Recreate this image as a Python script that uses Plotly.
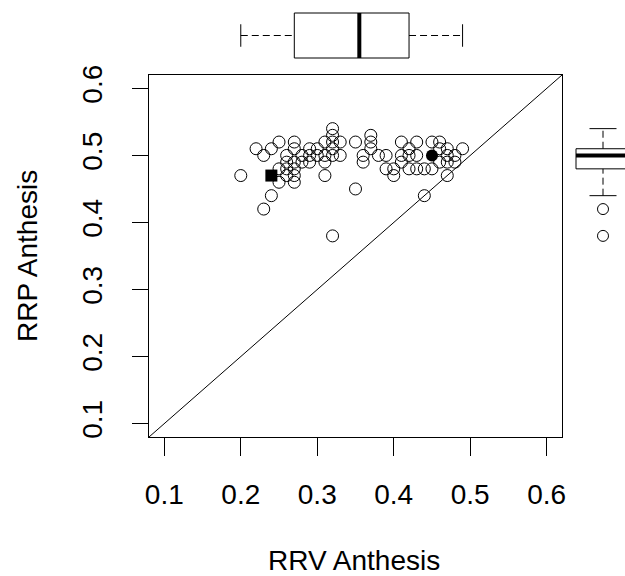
import plotly.graph_objects as go

# ---- data ----
rrv = [0.20, 0.22, 0.23, 0.24, 0.25, 0.27, 0.23, 0.24, 0.25, 0.26, 0.26, 0.26, 0.27, 0.27,
       0.27, 0.27, 0.27, 0.28, 0.28, 0.29, 0.29, 0.29, 0.30, 0.30, 0.26, 0.25,
       0.31, 0.31, 0.31, 0.31, 0.32, 0.32, 0.32, 0.32, 0.32, 0.33, 0.33, 0.32, 0.35, 0.35,
       0.36, 0.36, 0.37, 0.37, 0.37, 0.38, 0.39, 0.39, 0.40, 0.40,
       0.41, 0.41, 0.42, 0.42, 0.43, 0.43, 0.43, 0.44, 0.44, 0.45, 0.45, 0.46, 0.46, 0.46,
       0.47, 0.47, 0.47, 0.47, 0.48, 0.48, 0.49, 0.42, 0.41]
rrp = [0.47, 0.51, 0.50, 0.51, 0.52, 0.52, 0.42, 0.44, 0.46, 0.47, 0.48, 0.49, 0.46, 0.47,
       0.48, 0.49, 0.51, 0.50, 0.49, 0.51, 0.50, 0.49, 0.51, 0.50, 0.50, 0.48,
       0.52, 0.50, 0.49, 0.47, 0.54, 0.53, 0.52, 0.50, 0.51, 0.52, 0.50, 0.38, 0.52, 0.45,
       0.50, 0.49, 0.53, 0.52, 0.51, 0.50, 0.50, 0.48, 0.48, 0.47,
       0.52, 0.49, 0.51, 0.50, 0.52, 0.50, 0.48, 0.48, 0.44, 0.52, 0.48, 0.52, 0.51, 0.49,
       0.51, 0.50, 0.49, 0.47, 0.49, 0.50, 0.51, 0.48, 0.50]

# highlighted points
circle_pt_x = [0.45]
circle_pt_y = [0.50]
square_pt_x = [0.24]
square_pt_y = [0.47]

# boxplot statistics: [lower whisker, Q1, median, Q3, upper whisker]
rrv_box = [0.20, 0.27, 0.355, 0.42, 0.49]
rrp_box = [0.44, 0.48, 0.50, 0.51, 0.54]
rrp_outliers = [0.42, 0.38]

ticks = [0.1, 0.2, 0.3, 0.4, 0.5, 0.6]
tick_text = ["0.1", "0.2", "0.3", "0.4", "0.5", "0.6"]
axis_range = [0.08, 0.62]

W, H = 625, 576
FONT = "Liberation Sans, Arial, sans-serif"
FS = 28
DASH = "7px,4px"

fig = go.Figure()

# diagonal y = x
fig.add_trace(go.Scatter(x=axis_range, y=axis_range, mode="lines",
                         line=dict(color="black", width=1), hoverinfo="skip"))
# main scatter
fig.add_trace(go.Scatter(x=rrv, y=rrp, mode="markers",
                         marker=dict(symbol="circle-open", size=12, color="black",
                                     line=dict(width=1, color="black"))))
fig.add_trace(go.Scatter(x=circle_pt_x, y=circle_pt_y, mode="markers",
                         marker=dict(symbol="circle", size=12, color="black")))
fig.add_trace(go.Scatter(x=square_pt_x, y=square_pt_y, mode="markers",
                         marker=dict(symbol="square", size=12, color="black")))

# ---- top boxplot (horizontal) ----
lw, q1, med, q3, uw = rrv_box
fig.add_trace(go.Box(y=[0], q1=[q1], median=[med], q3=[q3], lowerfence=[q1], upperfence=[q3],
                     orientation="h", width=1, whiskerwidth=0,
                     line=dict(color="black", width=1), fillcolor="rgba(0,0,0,0)",
                     xaxis="x2", yaxis="y2", boxpoints=False))
fig.add_trace(go.Scatter(x=[med, med], y=[-0.5, 0.5], mode="lines",
                         line=dict(color="black", width=4), xaxis="x2", yaxis="y2"))
for a, b in [(lw, q1), (q3, uw)]:
    fig.add_trace(go.Scatter(x=[a, b], y=[0, 0], mode="lines",
                             line=dict(color="black", width=1, dash=DASH),
                             xaxis="x2", yaxis="y2"))
for v in [lw, uw]:
    fig.add_trace(go.Scatter(x=[v, v], y=[-0.25, 0.25], mode="lines",
                             line=dict(color="black", width=1), xaxis="x2", yaxis="y2"))

# ---- right boxplot (vertical) ----
lw, q1, med, q3, uw = rrp_box
fig.add_trace(go.Box(x=[0], q1=[q1], median=[med], q3=[q3], lowerfence=[q1], upperfence=[q3],
                     width=1, whiskerwidth=0,
                     line=dict(color="black", width=1), fillcolor="rgba(0,0,0,0)",
                     xaxis="x3", yaxis="y3", boxpoints=False))
fig.add_trace(go.Scatter(x=[-0.5, 0.5], y=[med, med], mode="lines",
                         line=dict(color="black", width=4), xaxis="x3", yaxis="y3"))
for a, b in [(lw, q1), (q3, uw)]:
    fig.add_trace(go.Scatter(x=[0, 0], y=[a, b], mode="lines",
                             line=dict(color="black", width=1, dash=DASH),
                             xaxis="x3", yaxis="y3"))
for v in [lw, uw]:
    fig.add_trace(go.Scatter(x=[-0.25, 0.25], y=[v, v], mode="lines",
                             line=dict(color="black", width=1), xaxis="x3", yaxis="y3"))
fig.add_trace(go.Scatter(x=[0] * len(rrp_outliers), y=rrp_outliers, mode="markers",
                         marker=dict(symbol="circle-open", size=11, color="black",
                                     line=dict(width=1, color="black")),
                         xaxis="x3", yaxis="y3"))

# ---- layout ----
px_l, px_r, px_t, px_b = 149, 562, 75, 437
xdom = [px_l / W, px_r / W]
ydom = [(H - px_b) / H, (H - px_t) / H]

axis_common = dict(range=axis_range, tickvals=ticks, ticktext=tick_text, ticks="outside",
                   showline=True, mirror=True, linecolor="black", linewidth=1,
                   tickcolor="black", tickwidth=1, showgrid=False, zeroline=False,
                   tickfont=dict(family=FONT, size=FS, color="black"))

# top box axis: box center 35.5 px from top, half-height 22.5
top_unit = 45.0
top_range = [-(px_t - 35.5) / top_unit, 35.5 / top_unit]
# right box axis: center at x=603 px, box width 54 px
right_unit = 54.0
right_range = [-(603 - 563) / right_unit, (W - 603) / right_unit]

fig.update_layout(
    width=W, height=H, margin=dict(l=0, r=0, t=0, b=0, autoexpand=False),
    paper_bgcolor="white", plot_bgcolor="white", showlegend=False,
    xaxis=dict(domain=xdom, anchor="y", ticklen=18, ticklabelstandoff=14, **axis_common),
    yaxis=dict(domain=ydom, anchor="x", ticklen=16, tickangle=-90, ticklabelstandoff=19,
               **axis_common),
    xaxis2=dict(domain=xdom, anchor="y2", matches="x", visible=False),
    yaxis2=dict(domain=[(H - px_t) / H, 1], anchor="x2", range=top_range, visible=False),
    xaxis3=dict(domain=[563 / W, 1], anchor="y3", range=right_range, visible=False),
    yaxis3=dict(domain=ydom, anchor="x3", matches="y", visible=False),
    annotations=[
        dict(text="RRV Anthesis", x=354 / W, y=(H - 560) / H, xref="paper", yref="paper",
             showarrow=False, xanchor="center", yanchor="middle",
             font=dict(family=FONT, size=FS, color="black")),
        dict(text="RRP Anthesis", x=27 / W, y=(H - 256) / H, xref="paper", yref="paper",
             showarrow=False, xanchor="center", yanchor="middle", textangle=-90,
             font=dict(family=FONT, size=FS, color="black")),
    ],
)

fig.write_html("out.html")
